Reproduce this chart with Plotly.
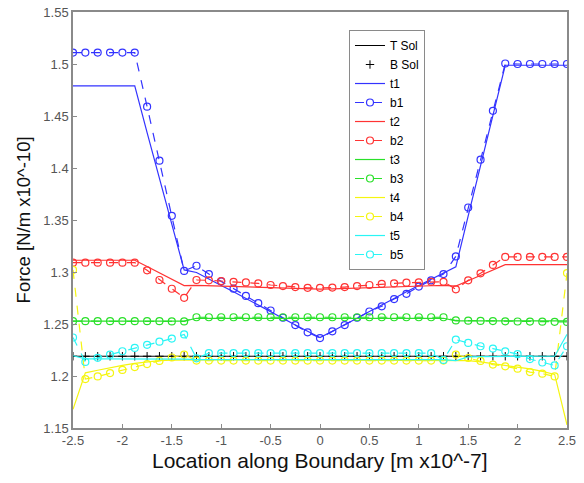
import plotly.graph_objects as go

X = [-2.5, -2.375, -2.25, -2.125, -2.0, -1.875, -1.75, -1.625, -1.5, -1.375,
     -1.25, -1.125, -1.0, -0.875, -0.75, -0.625, -0.5, -0.375, -0.25, -0.125,
     0.0, 0.125, 0.25, 0.375, 0.5, 0.625, 0.75, 0.875, 1.0, 1.125,
     1.25, 1.375, 1.5, 1.625, 1.75, 1.875, 2.0, 2.125, 2.25, 2.375, 2.5]

T_SOL = [1.219, 1.219, 1.219, 1.219, 1.219, 1.219, 1.219, 1.219, 1.219, 1.219,
         1.219, 1.219, 1.219, 1.219, 1.219, 1.219, 1.219, 1.219, 1.219, 1.219,
         1.219, 1.219, 1.219, 1.219, 1.219, 1.219, 1.219, 1.219, 1.219, 1.219,
         1.219, 1.219, 1.219, 1.219, 1.219, 1.219, 1.219, 1.219, 1.219, 1.219, 1.219]
B_SOL = [1.219, 1.219, 1.219, 1.219, 1.219, 1.219, 1.219, 1.219, 1.219, 1.219,
         1.219, 1.219, 1.219, 1.219, 1.219, 1.219, 1.219, 1.219, 1.219, 1.219,
         1.219, 1.219, 1.219, 1.219, 1.219, 1.219, 1.219, 1.219, 1.219, 1.219,
         1.219, 1.219, 1.219, 1.219, 1.219, 1.219, 1.219, 1.219, 1.219, 1.219, 1.219]

T1 = [1.479, 1.479, 1.479, 1.479, 1.479, 1.479, 1.434, 1.390, 1.345, 1.302,
      1.2995, 1.293, 1.287, 1.281, 1.2745, 1.268, 1.262, 1.2555, 1.249, 1.243,
      1.237, 1.243, 1.249, 1.2555, 1.262, 1.268, 1.2745, 1.281, 1.287, 1.293,
      1.2995, 1.305, 1.354, 1.402, 1.451, 1.4988, 1.4988, 1.4988, 1.4988, 1.4988, 1.4988]
B1 = [1.511, 1.511, 1.511, 1.511, 1.511, 1.511, 1.459, 1.407, 1.354, 1.301,
      1.306, 1.298, 1.291, 1.284, 1.277, 1.270, 1.263, 1.256, 1.249, 1.242,
      1.2365, 1.243, 1.249, 1.256, 1.262, 1.267, 1.274, 1.279, 1.286, 1.292,
      1.298, 1.315, 1.362, 1.408, 1.455, 1.5005, 1.500, 1.500, 1.500, 1.500, 1.500]

T2 = [1.3113, 1.3113, 1.3113, 1.3113, 1.3113, 1.3113, 1.3052, 1.2991, 1.293, 1.2869,
      1.2872, 1.2868, 1.2864, 1.286, 1.2856, 1.2852, 1.2848, 1.2844, 1.284, 1.2837,
      1.2835, 1.2837, 1.284, 1.2844, 1.2848, 1.2852, 1.2856, 1.286, 1.2864, 1.2868,
      1.2872, 1.2865, 1.2916, 1.2967, 1.3018, 1.307, 1.307, 1.307, 1.307, 1.307, 1.307]
B2 = [1.309, 1.309, 1.309, 1.309, 1.309, 1.309, 1.3016, 1.2923, 1.2839, 1.2752,
      1.2923, 1.292, 1.2913, 1.2906, 1.290, 1.289, 1.2875, 1.2865, 1.2855, 1.2848,
      1.2848, 1.285, 1.2855, 1.2865, 1.2875, 1.2885, 1.289, 1.2897, 1.290, 1.2906,
      1.2906, 1.2833, 1.292, 1.2987, 1.3068, 1.3145, 1.3145, 1.3145, 1.3145, 1.3145, 1.3145]

T3 = [1.2527, 1.2527, 1.2527, 1.2527, 1.2527, 1.2527, 1.2527, 1.2527, 1.2527, 1.2527,
      1.2555, 1.2555, 1.2555, 1.2555, 1.2555, 1.2555, 1.2555, 1.2555, 1.2555, 1.2555,
      1.2555, 1.2555, 1.2555, 1.2555, 1.2555, 1.2555, 1.2555, 1.2555, 1.2555, 1.2555,
      1.2555, 1.253, 1.253, 1.253, 1.253, 1.253, 1.253, 1.253, 1.253, 1.253, 1.253]
B3 = [1.2527, 1.2527, 1.2527, 1.2527, 1.2527, 1.2527, 1.2527, 1.2527, 1.2525, 1.2525,
      1.2565, 1.2565, 1.2565, 1.2565, 1.2565, 1.2565, 1.2565, 1.2565, 1.2565, 1.2565,
      1.2565, 1.2565, 1.2565, 1.2565, 1.2565, 1.2565, 1.2565, 1.2565, 1.2565, 1.2565,
      1.2565, 1.2534, 1.2532, 1.253, 1.2528, 1.2526, 1.2524, 1.2523, 1.2522, 1.2521, 1.252]

T4 = [1.168, 1.203, 1.2055, 1.208, 1.2103, 1.2122, 1.2138, 1.2148, 1.2153, 1.2155,
      1.2155, 1.2155, 1.2155, 1.2155, 1.2155, 1.2155, 1.2155, 1.2155, 1.2155, 1.2155,
      1.2155, 1.2155, 1.2155, 1.2155, 1.2155, 1.2155, 1.2155, 1.2155, 1.2155, 1.2155,
      1.2155, 1.2155, 1.2148, 1.2135, 1.212, 1.2105, 1.2088, 1.2068, 1.2045, 1.2015, 1.153]
B4 = [1.302, 1.197, 1.1996, 1.2028, 1.2058, 1.2086, 1.2115, 1.2145, 1.2178, 1.2206,
      1.2148, 1.2148, 1.2148, 1.2148, 1.2148, 1.2148, 1.2148, 1.2148, 1.2148, 1.2148,
      1.2148, 1.2148, 1.2148, 1.2148, 1.2148, 1.2148, 1.2148, 1.2148, 1.2148, 1.2148,
      1.2148, 1.2206, 1.2173, 1.2145, 1.211, 1.2093, 1.207, 1.2038, 1.2022, 1.1996, 1.299]

T5 = [1.2195, 1.2165, 1.2165, 1.2165, 1.2165, 1.2165, 1.2165, 1.2165, 1.2165, 1.2163,
      1.2157, 1.2157, 1.2157, 1.2157, 1.2157, 1.2157, 1.2157, 1.2157, 1.2157, 1.2157,
      1.2157, 1.2157, 1.2157, 1.2157, 1.2157, 1.2157, 1.2157, 1.2157, 1.2157, 1.2157,
      1.2157, 1.2147, 1.2183, 1.2186, 1.2188, 1.219, 1.219, 1.219, 1.219, 1.219, 1.240]
B5 = [1.237, 1.2135, 1.2175, 1.2205, 1.2238, 1.227, 1.230, 1.233, 1.236, 1.240,
      1.217, 1.222, 1.222, 1.222, 1.222, 1.222, 1.222, 1.222, 1.222, 1.222,
      1.222, 1.222, 1.222, 1.222, 1.222, 1.222, 1.222, 1.222, 1.222, 1.222,
      1.2155, 1.235, 1.2318, 1.2286, 1.2264, 1.2237, 1.221, 1.2163, 1.213, 1.2102, 1.2286]

X_TICKS = [-2.5, -2, -1.5, -1, -0.5, 0, 0.5, 1, 1.5, 2, 2.5]
X_TICK_TEXT = ["-2.5", "-2", "-1.5", "-1", "-0.5", "0", "0.5", "1", "1.5", "2", "2.5"]
Y_TICKS = [1.15, 1.2, 1.25, 1.3, 1.35, 1.4, 1.45, 1.5, 1.55]
Y_TICK_TEXT = ["1.15", "1.2", "1.25", "1.3", "1.35", "1.4", "1.45", "1.5", "1.55"]

X_TITLE = "Location along Boundary [m x10^-7]"
Y_TITLE = "Force [N/m x10^-10]"

SERIES = [
    ("t1", T1, "b1", B1, "#3333ff"),
    ("t2", T2, "b2", B2, "#ff3333"),
    ("t3", T3, "b3", B3, "#2ae02a"),
    ("t4", T4, "b4", B4, "#f5f510"),
    ("t5", T5, "b5", B5, "#2af5f5"),
]

FONT = "Liberation Sans, Arial, sans-serif"

fig = go.Figure()
fig.add_trace(go.Scatter(x=X, y=T_SOL, mode="lines", name="T Sol",
                         line=dict(color="black", width=1)))
fig.add_trace(go.Scatter(x=X, y=B_SOL, mode="markers", name="B Sol",
                         marker=dict(symbol="cross-thin-open", size=6,
                                     line=dict(color="black", width=1), color="black")))
for tname, tvals, bname, bvals, col in SERIES:
    fig.add_trace(go.Scatter(x=X, y=tvals, mode="lines", name=tname,
                             line=dict(color=col, width=1.2)))
    fig.add_trace(go.Scatter(x=X, y=bvals, mode="lines+markers", name=bname,
                             line=dict(color=col, width=1.2, dash="dash"),
                             marker=dict(symbol="circle-open", size=7,
                                         line=dict(color=col, width=1.2))))

axis_common = dict(showline=True, mirror=True, linecolor="#8a8a8a", linewidth=1.5,
                   ticks="inside", ticklen=4, tickcolor="#8a8a8a",
                   showgrid=False, zeroline=False, automargin=False,
                   tickfont=dict(family=FONT, size=13, color="#555555"))

fig.update_layout(
    width=584, height=483,
    margin=dict(l=73, r=17, t=12, b=55),
    paper_bgcolor="white", plot_bgcolor="white",
    font=dict(family=FONT, color="black"),
    xaxis=dict(range=[-2.5, 2.5], tickvals=X_TICKS, ticktext=X_TICK_TEXT, **axis_common),
    yaxis=dict(range=[1.15, 1.55], tickvals=Y_TICKS, ticktext=Y_TICK_TEXT, **axis_common),
    legend=dict(x=0.5587, y=0.9567, xanchor="left", yanchor="top",
                bgcolor="white", bordercolor="#8a8a8a", borderwidth=1,
                font=dict(family=FONT, size=12, color="black"),
                tracegroupgap=0, itemwidth=30),
    showlegend=True,
    annotations=[
        dict(text=X_TITLE, xref="paper", yref="paper", x=0.5, y=-0.0769,
             xanchor="center", yanchor="middle", showarrow=False, height=24,
             font=dict(family=FONT, size=21, color="#111111")),
        dict(text=Y_TITLE, xref="paper", yref="paper", x=-0.1012, y=0.499,
             xanchor="center", yanchor="middle", showarrow=False, textangle=-90,
             font=dict(family=FONT, size=18.5, color="#111111")),
    ],
)

fig.write_html("out.html", config={"displayModeBar": False},
               post_script="document.body.style.margin='0';")
